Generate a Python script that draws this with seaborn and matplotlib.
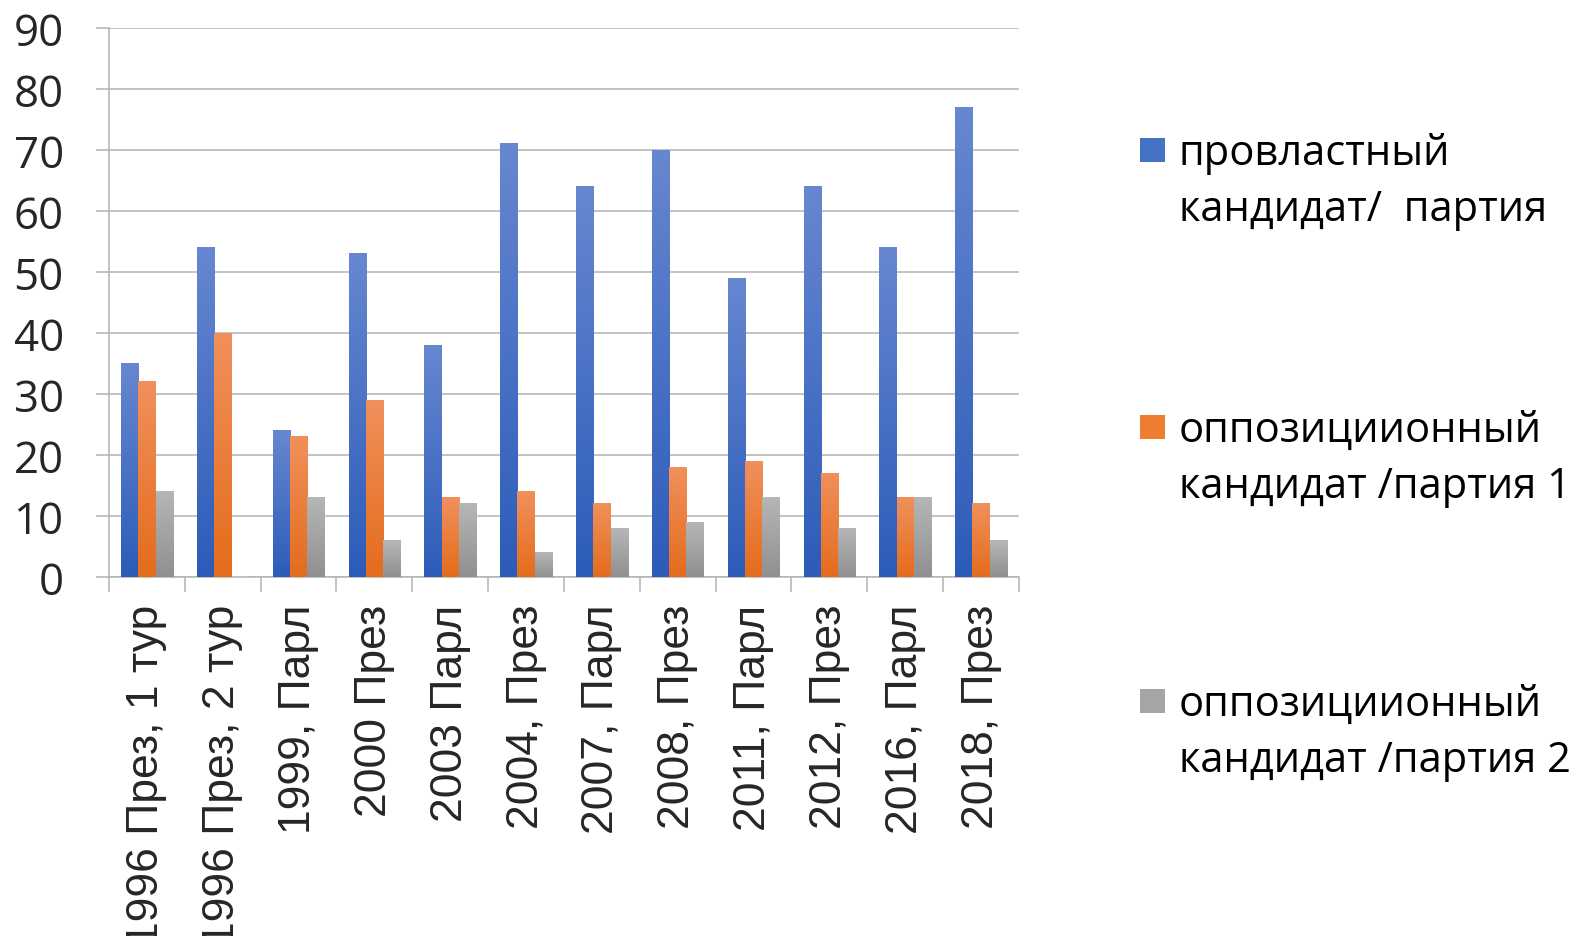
import matplotlib
matplotlib.use("Agg")
import matplotlib.pyplot as plt
import numpy as np
import pandas as pd
import seaborn as sns
from matplotlib.colors import LinearSegmentedColormap
from matplotlib.patches import Rectangle
from matplotlib.ticker import FixedLocator

categories = [
    "1996 През, 1 тур", "1996 През, 2 тур", "1999, Парл", "2000 През",
    "2003 Парл", "2004, През", "2007, Парл", "2008, През",
    "2011, Парл", "2012, През", "2016, Парл", "2018, През",
]
series_names = [
    "провластный\nкандидат/  партия",
    "оппозициионный\nкандидат /партия 1",
    "оппозициионный\nкандидат /партия 2",
]
pro_gov = [35, 54, 24, 53, 38, 71, 64, 70, 49, 64, 54, 77]
opp_1 = [32, 40, 23, 29, 13, 14, 12, 18, 19, 17, 13, 12]
opp_2 = [14, 0, 13, 6, 12, 4, 8, 9, 13, 8, 13, 6]

# top / bottom colours of the Excel-style gradient fill
grad_top = ["#6787d0", "#f1905c", "#b6b6b6"]
grad_bottom = ["#2c5cb9", "#e46c1c", "#909090"]
mid_colors = ["#4472c4", "#ed7d31", "#a5a5a5"]

df = pd.DataFrame({
    "category": categories * 3,
    "series": np.repeat(series_names, len(categories)),
    "value": pro_gov + opp_1 + opp_2,
})

sns.set_style("white")
plt.rcParams["font.family"] = ["Open Sans", "DejaVu Sans"]

fig = plt.figure(figsize=(15.78, 9.37), dpi=100)
ax = fig.add_axes([109 / 1578, 1 - 578 / 937, (1019 - 109) / 1578, (578 - 29) / 937])

sns.barplot(
    data=df, x="category", y="value", hue="series", order=categories,
    hue_order=series_names, palette=mid_colors, width=0.68, gap=0,
    saturation=1, legend=False, ax=ax, zorder=3,
)

# replace flat fills with vertical gradients, one per bar
for k, container in enumerate(ax.containers):
    cmap = LinearSegmentedColormap.from_list(f"g{k}", [grad_bottom[k], grad_top[k]])
    for bar in container:
        h = bar.get_height()
        if h <= 0:
            continue
        x0 = bar.get_x()
        x1 = x0 + bar.get_width()
        grad = np.linspace(0, 1, 256).reshape(-1, 1)
        ax.imshow(grad, cmap=cmap, origin="lower", aspect="auto",
                  extent=[x0, x1, 0, h], zorder=4, interpolation="bicubic")
        bar.set_alpha(0)

ax.set_xlim(-0.5, len(categories) - 0.5)
ax.set_ylim(0, 90)
ax.set_yticks(range(0, 91, 10))
ax.set_xlabel("")
ax.set_ylabel("")

grid_c = "#b3b3b3"
ax.yaxis.grid(True, color=grid_c, linewidth=1.1, zorder=0)
ax.xaxis.grid(False)
for side in ["top", "right"]:
    ax.spines[side].set_visible(False)
for side in ["left", "bottom"]:
    ax.spines[side].set_color(grid_c)
    ax.spines[side].set_linewidth(1.1)

ax.tick_params(axis="y", direction="out", length=9.5, width=1.1, color=grid_c,
               pad=23, labelsize=31.5, left=True)
ax.xaxis.set_minor_locator(FixedLocator(np.arange(-0.5, len(categories), 1.0)))
ax.tick_params(axis="x", which="minor", direction="out", length=11, width=1.1,
               color=grid_c, bottom=True)
ax.tick_params(axis="x", which="major", length=0, pad=19)
ax.set_xticks(range(len(categories)))
# the two long 1996 labels run past the bottom edge, as in the original
ax.set_xticklabels(categories, rotation=90, ha="center", va="top",
                   fontsize=32, family=["Liberation Sans", "DejaVu Sans"])

# legend on the right, square aligned with the first text line
entry_y = [151, 428, 702]
for k, name in enumerate(series_names):
    yc = 1 - entry_y[k] / 937
    fig.patches.append(Rectangle((1140 / 1578, yc - 12 / 937), 25 / 1578, 24 / 937,
                                 transform=fig.transFigure, facecolor=mid_colors[k],
                                 edgecolor="none"))
    fig.text(1179 / 1578, yc + 18 / 937, name, fontsize=30, ha="left", va="top",
             linespacing=1.45, color="black")

fig.savefig("out.png", dpi=100)
